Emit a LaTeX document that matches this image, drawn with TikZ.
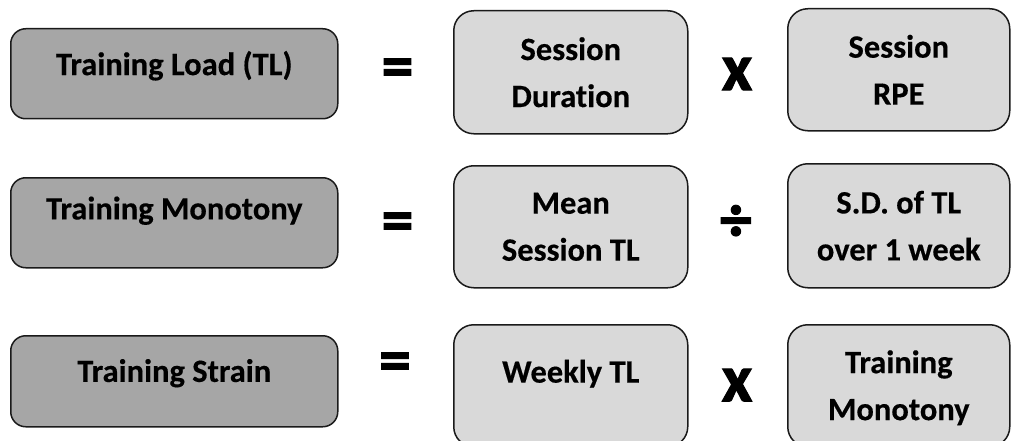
\documentclass[tikz,border=0pt]{standalone}
\usepackage{fontspec}
\setmainfont{Carlito}[Ligatures=NoCommon, BoldFeatures={FakeBold=0.4}]
\newfontfamily\opfont{Carlito}[BoldFeatures={FakeBold=1.5}]
\definecolor{termfill}{HTML}{A6A6A6}
\definecolor{factorfill}{HTML}{D9D9D9}
\definecolor{edge}{HTML}{1A1A1A}
\begin{document}
\begin{tikzpicture}[x=1pt,y=-1pt,
  box/.style={draw=edge, line width=1.5pt, anchor=north west, inner sep=0pt},
  termbox/.style={box, fill=termfill, rounded corners=15pt, minimum width=327pt, minimum height=90pt},
  factorbox/.style={box, fill=factorfill, rounded corners=20pt, minimum width=234pt, minimum height=122pt},
  rightbox/.style={factorbox, minimum width=222pt},
  lbl/.style={font=\fontsize{32.5}{47}\selectfont\bfseries, align=center, inner sep=0pt, text=black},
  op/.style={font=\opfont\fontsize{64}{64}\selectfont\bfseries, inner sep=0pt, text=black},
  timesop/.style={op, font=\opfont\fontsize{67}{67}\selectfont\bfseries}]
\useasboundingbox (0,0) rectangle (1011,441);
\clip (0,0) rectangle (1011,441);

% row 1: training load
\node[termbox] (b1) at (10,28) {};
\node[lbl] (t1) at ([yshift=8pt]b1.center) {Training Load (TL)};
\node[op] (eq1) at (397.5,73) {=};
\node[factorbox, minimum height=123pt] (r1a) at (453,10) {};
\node[lbl] (r1at) at (r1a.center) {Session\\Duration};
\node[timesop] (mul1) at (737,74) {x};
\node[rightbox] (r1b) at (787,8) {};
\node[lbl] (r1bt) at (r1b.center) {Session\\RPE};

% row 2: training monotony
\node[termbox] (b2) at (10,177) {};
\node[lbl] (t2) at ([yshift=12pt]b2.center) {Training Monotony};
\node[op] (eq2) at (397.5,227) {=};
\node[factorbox] (r2a) at (453,165) {};
\node[lbl] (r2at) at (r2a.center) {Mean\\Session TL};
\node[op] (div2) at (736,223) {÷};
\node[rightbox, minimum height=124pt] (r2b) at (787,163) {};
\node[lbl] (r2bt) at (r2b.center) {S.D. of TL\\over 1 week};

% row 3: training strain
\node[termbox, minimum height=91pt] (b3) at (10,335) {};
\node[lbl] (t3) at ([yshift=8pt]b3.center) {Training Strain};
\node[op] (eq3) at (395,367) {=};
\node[factorbox] (r3a) at (453,324) {};
\node[lbl] (r3at) at ([yshift=12pt]r3a.center) {Weekly TL};
\node[timesop] (mul3) at (737,385) {x};
\node[rightbox] (r3b) at (787,324) {};
\node[lbl] (r3bt) at ([yshift=-2pt]r3b.center) {Training\\Monotony};
\end{tikzpicture}
\end{document}
